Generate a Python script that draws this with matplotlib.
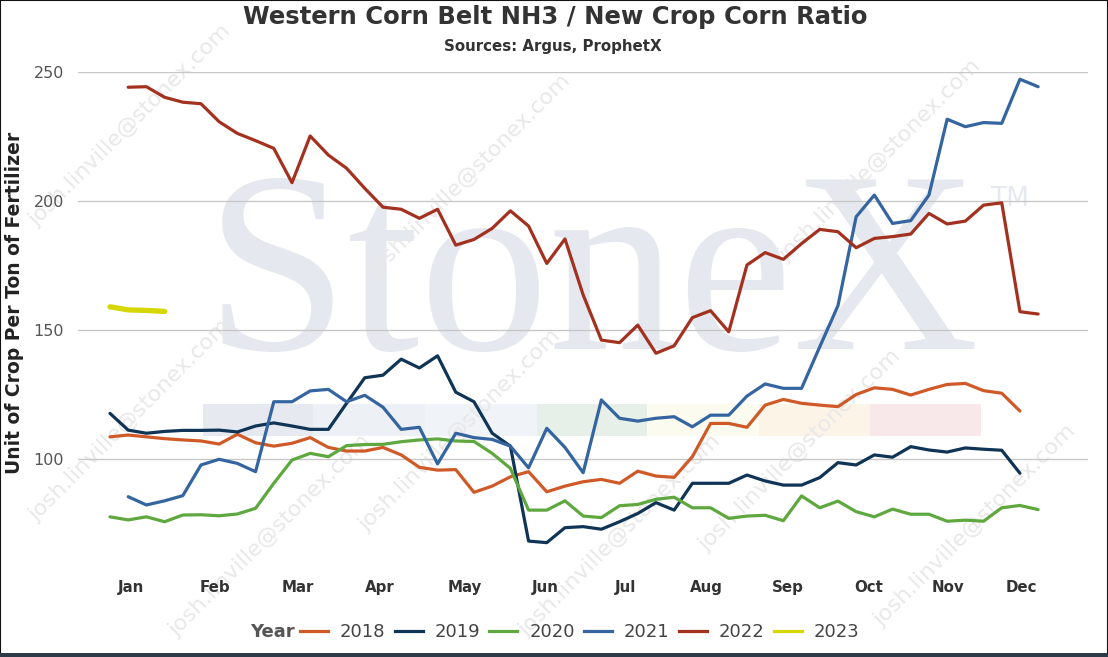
import matplotlib
matplotlib.use('Agg')
import matplotlib.pyplot as plt
from matplotlib.patches import Rectangle
from matplotlib.lines import Line2D

# ---------------- data ----------------
years = ['2018', '2019', '2020', '2021', '2022', '2023']
start_week = [0, 0, 0, 1, 1, 0]

v2018 = [108.6, 109.3, 108.6, 107.9, 107.4, 107.0, 105.8, 109.6, 106.3, 105.0,
         106.1, 108.3, 104.5, 103.1, 103.1, 104.5, 101.6, 96.8, 95.7, 95.9,
         87.1, 89.5, 93.1, 95.1, 87.3, 89.5, 91.2, 92.1, 90.6, 95.3,
         93.4, 92.9, 100.9, 113.8, 113.8, 112.3, 120.9, 123.1, 121.6, 120.9,
         120.3, 125.0, 127.6, 127.0, 124.8, 127.0, 128.9, 129.3, 126.5, 125.5, 118.6]
v2019 = [117.7, 111.2, 110.0, 110.7, 111.1, 111.1, 111.2, 110.5, 112.8, 114.0,
         112.8, 111.5, 111.5, 121.6, 131.5, 132.5, 138.7, 135.3, 140.0, 125.9,
         122.2, 110.0, 105.0, 68.2, 67.6, 73.4, 73.8, 72.8, 75.7, 78.9,
         83.1, 80.2, 90.6, 90.6, 90.6, 93.8, 91.5, 89.9, 89.9, 92.8,
         98.6, 97.7, 101.6, 100.7, 104.8, 103.5, 102.7, 104.3, 103.8, 103.4, 94.5]
v2020 = [77.6, 76.4, 77.6, 75.7, 78.3, 78.4, 78.0, 78.7, 80.9, 90.6,
         99.6, 102.2, 100.9, 105.2, 105.6, 105.7, 106.7, 107.4, 107.8, 107.0,
         106.8, 102.2, 96.4, 80.2, 80.2, 83.8, 77.9, 77.3, 81.9, 82.4,
         84.4, 85.2, 81.1, 81.1, 77.0, 77.9, 78.2, 76.1, 85.7, 81.1,
         83.7, 79.6, 77.6, 80.6, 78.6, 78.6, 75.9, 76.3, 75.9, 81.1,
         82.0, 80.4]
v2021 = [85.4, 82.2, 83.8, 85.8, 97.7, 99.9, 98.3, 95.1, 122.2, 122.2,
         126.4, 127.0, 122.2, 124.7, 120.1, 111.5, 112.3, 98.1, 110.0, 108.3,
         107.6, 105.0, 96.6, 111.9, 104.5, 94.7, 122.9, 115.8, 114.7, 115.8,
         116.4, 112.5, 117.0, 117.0, 124.4, 129.1, 127.4, 127.4, 143.5, 159.4,
         193.9, 202.3, 191.3, 192.4, 202.3, 231.7, 228.8, 230.4, 230.1, 247.2, 244.3]
v2022 = [244.1, 244.3, 240.2, 238.3, 237.7, 230.7, 226.2, 223.4, 220.4, 207.1,
         225.2, 217.8, 212.7, 204.9, 197.6, 196.8, 193.3, 196.8, 182.9, 185.1,
         189.4, 196.2, 190.3, 175.8, 185.3, 163.6, 146.1, 145.1, 151.9, 141.0,
         143.9, 154.8, 157.5, 149.3, 175.2, 180.0, 177.4, 183.5, 189.0, 188.1,
         181.9, 185.5, 186.2, 187.2, 195.2, 191.1, 192.2, 198.4, 199.3, 157.1, 156.2]
v2023 = [159.0, 157.8, 157.6, 157.2]

series = [v2018, v2019, v2020, v2021, v2022, v2023]
colors = ['#cf5a28', '#0f3456', '#5ea83f', '#3465a0', '#a3311f', '#d6d600']

months = ['Jan', 'Feb', 'Mar', 'Apr', 'May', 'Jun', 'Jul', 'Aug', 'Sep', 'Oct', 'Nov', 'Dec']
month_pos = [1.15, 5.77, 10.33, 14.84, 19.51, 23.9, 28.3, 32.75, 37.25, 41.7, 46.04, 50.1]
y_ticks = [100, 150, 200, 250]

# ---------------- figure ----------------
W, H = 1108, 657
fig = plt.figure(figsize=(W / 100, H / 100), dpi=100)
fig.patch.set_facecolor('white')


def fx(px):
    return px / W


def fy(py):
    return 1 - py / H


# watermark: StoneX logo
fig.text(fx(205), fy(349), 'StoneX', family='Liberation Serif', fontsize=186,
         color='#e5e8ee', ha='left', va='baseline', zorder=-2)
fig.text(fx(990), fy(206), 'TM', family='DejaVu Sans', fontsize=19,
         color='#e5e8ee', ha='left', va='baseline', zorder=-2)
bar_segments = [(203, 313, '#e6e9ef'), (313, 425, '#edf0f5'), (425, 537, '#f0f4f8'),
                (537, 647, '#e6efe8'), (647, 759, '#fbfbef'), (759, 870, '#fdf4e8'),
                (870, 981, '#f8e8ea')]
for x0, x1, c in bar_segments:
    fig.add_artist(Rectangle((fx(x0), fy(436)), (x1 - x0) / W, 32 / H,
                             transform=fig.transFigure, facecolor=c,
                             edgecolor='none', zorder=-3))

# diagonal e-mail watermarks
wm_centers = [(130, 125), (470, 175), (880, 160), (130, 420), (460, 430),
              (800, 450), (270, 535), (620, 535), (975, 525)]
for cx, cy in wm_centers:
    fig.text(fx(cx), fy(cy), 'josh.linville@stonex.com', fontsize=16,
             color='#e8e8e8', rotation=45, ha='center', va='center',
             rotation_mode='anchor', zorder=-1)

# axes
bottom_px = 567.4
ax = fig.add_axes([fx(78), fy(bottom_px), 1010 / W, (bottom_px - 72) / H])
ax.set_facecolor('none')

for vals, start, c, yr in zip(series, start_week, colors, years):
    xs = list(range(start, start + len(vals)))
    lw = 3.8 if yr == '2023' else 2.3
    ax.plot(xs, vals, color=c, lw=lw, solid_joinstyle='round',
            solid_capstyle='round', zorder=3)

ax.set_xlim(-1.758, 53.74)
ax.set_ylim(58, 250)
ax.set_yticks(y_ticks)
ax.set_yticklabels([str(v) for v in y_ticks])
ax.grid(axis='y', color='#c8c8c8', lw=1)
ax.set_axisbelow(True)
ax.set_xticks(month_pos)
ax.set_xticklabels(months, fontweight='bold', fontsize=10.8, color='#333333')
ax.tick_params(axis='x', length=0, pad=9)
ax.tick_params(axis='y', length=0, pad=10, labelsize=11.5, labelcolor='#555555')
for s in ax.spines.values():
    s.set_visible(False)

# titles
fig.text(fx(555), fy(17), 'Western Corn Belt NH3 / New Crop Corn Ratio',
         fontsize=17.5, fontweight='bold', color='#333333', ha='center', va='center')
fig.text(fx(553), fy(47), 'Sources: Argus, ProphetX', fontsize=10.8,
         fontweight='bold', color='#333333', ha='center', va='center')
fig.text(fx(15), fy(303), 'Unit of Crop Per Ton of Fertilizer', fontsize=13.5,
         fontweight='bold', color='#222222', rotation=90, ha='center', va='center')

# legend
fig.text(fx(250), fy(632), 'Year', fontsize=13, fontweight='bold',
         color='#555555', ha='left', va='center')
handles = [Line2D([0], [0], color=c, lw=2.3) for c in colors]
fig.legend(handles, years, loc='center left', bbox_to_anchor=(fx(300), fy(632)),
           ncol=6, frameon=False, fontsize=13, handlelength=1.55,
           handletextpad=0.67, columnspacing=0.5, borderpad=0,
           borderaxespad=0, labelcolor='#444444')

# frame
fig.add_artist(Rectangle((0, 0), 1, 1, transform=fig.transFigure, fill=False,
                         edgecolor='#111111', lw=1.5, zorder=10))
fig.add_artist(Rectangle((0, 0), 1, 4 / H, transform=fig.transFigure,
                         facecolor='#2d3b48', edgecolor='none', zorder=10))

fig.savefig('out.png', dpi=100)
